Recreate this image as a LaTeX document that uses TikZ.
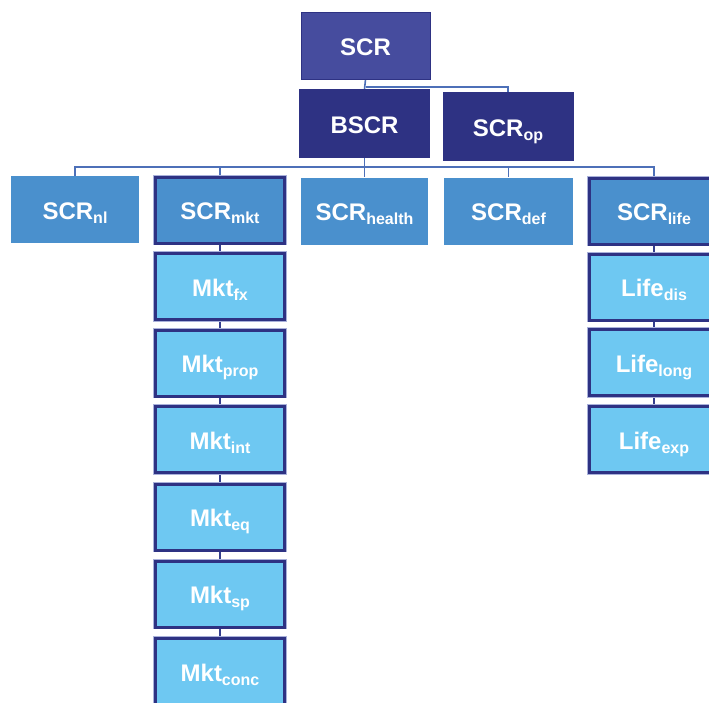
\documentclass[tikz,border=0pt]{standalone}
\usepackage{fontspec}
\setmainfont{Liberation Sans}
\usetikzlibrary{backgrounds}
\definecolor{cTop}{HTML}{464C9E}
\definecolor{cNavy}{HTML}{2E3283}
\definecolor{cMid}{HTML}{4A90CD}
\definecolor{cLight}{HTML}{6EC8F2}
\definecolor{cLine}{HTML}{4D70B8}
\definecolor{cRing}{HTML}{A9B1DA}
\newcommand\boxlbl[2]{#1\raisebox{-4pt}{\fontsize{16}{16}\selectfont #2}}
\begin{document}
\begin{tikzpicture}[x=1pt,y=-1pt,
  base/.style={rectangle, inner sep=0pt, text=white, font=\fontsize{24}{24}\selectfont\bfseries, text height=19.5pt, text depth=0pt},
  topbox/.style={base, fill=cTop, draw=cNavy, line width=1pt, minimum width=#1, minimum height=67pt},
  darkbox/.style={base, fill=cNavy, draw=cNavy, line width=0.5pt, minimum width=130pt, minimum height=68pt},
  midbox/.style={base, fill=cMid, minimum width=#1, minimum height=67pt},
  thickmid/.style={base, fill=cMid, draw=cNavy, line width=3pt, preaction={draw=cRing, line width=4.5pt}, minimum width=129pt, minimum height=66pt},
  lightbox/.style={base, fill=cLight, draw=cNavy, line width=3pt, preaction={draw=cRing, line width=4.5pt}, minimum width=129pt, minimum height=66pt},
  conn/.style={draw=cLine, line width=1.6pt},
  stack/.style={draw=cNavy!80!cLine, line width=1.8pt}
]
\useasboundingbox (0,0) rectangle (709,702);
% top levels
\node[topbox=129pt] (scr) at (365.5,45.5) {SCR};
\node[darkbox] (bscr) at (364.5,123.5) {BSCR};
\node[darkbox] (scrop) at (508,126.5) {\boxlbl{SCR}{op}};
% level 2
\node[midbox=128pt] (nl) at (75,209.5) {\boxlbl{SCR}{nl}};
\node[thickmid] (mkt) at (220,210) {\boxlbl{SCR}{mkt}};
\node[midbox=127pt] (health) at (364.5,211) {\boxlbl{SCR}{health}};
\node[midbox=129pt] (def) at (508.5,211) {\boxlbl{SCR}{def}};
\node[thickmid] (life) at (654,211) {\boxlbl{SCR}{life}};
% market stack
\node[lightbox] (fx) at (220,286.5) {\boxlbl{Mkt}{fx}};
\node[lightbox] (prop) at (220,363) {\boxlbl{Mkt}{prop}};
\node[lightbox] (int) at (220,439.5) {\boxlbl{Mkt}{int}};
\node[lightbox] (eq) at (220,517) {\boxlbl{Mkt}{eq}};
\node[lightbox] (sp) at (220,594) {\boxlbl{Mkt}{sp}};
\node[lightbox] (conc) at (220,671.5) {\boxlbl{Mkt}{conc}};
% life stack
\node[lightbox] (dis) at (654,287) {\boxlbl{Life}{dis}};
\node[lightbox] (long) at (654,362.5) {\boxlbl{Life}{long}};
\node[lightbox] (exp) at (654,439.5) {\boxlbl{Life}{exp}};
% connectors
\coordinate (j1) at (365.5,87);
\coordinate (bus) at (364.5,167);
\begin{scope}[on background layer]
\draw[conn] (scr.south) -- (bscr.north);
\draw[conn] (j1) -| (scrop.north);
\draw[conn] (bscr.south) -- (bus);
\draw[conn] (bus) -| (nl.north);
\draw[conn] (bus) -| (mkt.north);
\draw[conn] (bus) -| (health.north);
\draw[conn] (bus) -| (def.north);
\draw[conn] (bus) -| (life.north);
\draw[stack] (mkt.south) -- (fx.north);
\draw[stack] (fx.south) -- (prop.north);
\draw[stack] (prop.south) -- (int.north);
\draw[stack] (int.south) -- (eq.north);
\draw[stack] (eq.south) -- (sp.north);
\draw[stack] (sp.south) -- (conc.north);
\draw[stack] (life.south) -- (dis.north);
\draw[stack] (dis.south) -- (long.north);
\draw[stack] (long.south) -- (exp.north);
\end{scope}
\end{tikzpicture}
\end{document}
